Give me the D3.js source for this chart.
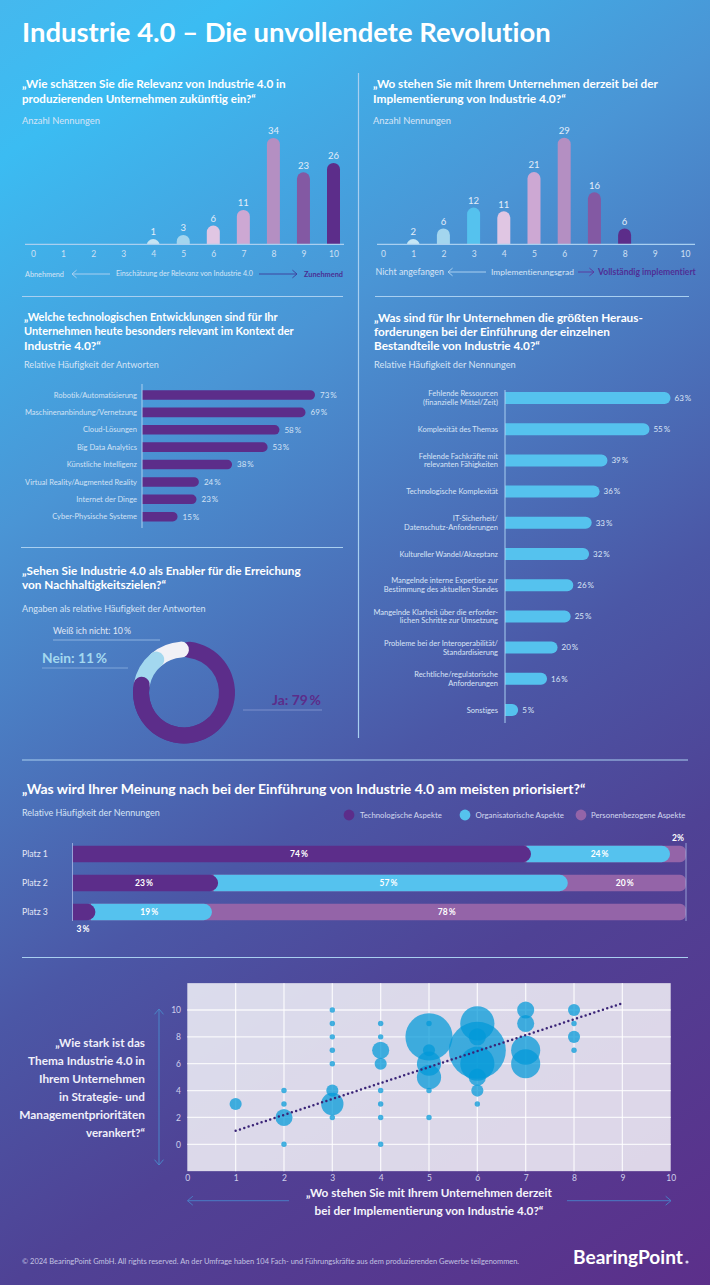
<!DOCTYPE html>
<html lang="de"><head><meta charset="utf-8">
<script src="https://cdnjs.cloudflare.com/ajax/libs/d3/7.8.5/d3.min.js"></script>
<style>html,body{margin:0;padding:0;background:#4b57a6}svg{display:block}text{font-family:"Lato","Noto Sans",sans-serif;font-variant-ligatures:none}</style>
</head><body><svg id="c" width="710" height="1285" viewBox="0 0 710 1285"></svg>
<script>
// ---------- data ----------
const relevanceCats=[0,1,2,3,4,5,6,7,8,9,10];
const relevanceVals=[0,0,0,0,1,3,6,11,34,23,26];
const relevanceCols=[null,null,null,null,"#c6e4f3","#a3d5ee","#e0c6e3","#cda8d3","#b48fc2","#8359a3","#5c2d8a"];
const implCats=[0,1,2,3,4,5,6,7,8,9,10];
const implVals=[0,2,6,12,11,21,29,16,6,0,0];
const implCols=[null,"#c6e6f5","#a3d5ee","#55c2ee","#e0c6e3","#cda8d3","#b48fc2","#8359a3","#5c2d8a",null,null];
const techLabels=["Robotik/Automatisierung","Maschinenanbindung/Vernetzung","Cloud-Lösungen","Big Data Analytics","Künstliche Intelligenz","Virtual Reality/Augmented Reality","Internet der Dinge","Cyber-Physische Systeme"];
const techVals=[73,69,58,53,38,24,23,15];
const hurdleLabels=[["Fehlende Ressourcen","(finanzielle Mittel/Zeit)"],["Komplexität des Themas"],["Fehlende Fachkräfte mit","relevanten Fähigkeiten"],["Technologische Komplexität"],["IT-Sicherheit/","Datenschutz-Anforderungen"],["Kultureller Wandel/Akzeptanz"],["Mangelnde interne Expertise zur","Bestimmung des aktuellen Standes"],["Mangelnde Klarheit über die erforder-","lichen Schritte zur Umsetzung"],["Probleme bei der Interoperabilität/","Standardisierung"],["Rechtliche/regulatorische","Anforderungen"],["Sonstiges"]];
const hurdleVals=[63,55,39,36,33,32,26,25,20,16,5];
const donutLabels=["Ja","Nein","Weiß ich nicht"];
const donutVals=[79,11,10];
const donutCols=["#5c2d8a","#a3d8ef","#f1f1f6"];
const stackRows=["Platz 1","Platz 2","Platz 3"];
const stackSeries=["Technologische Aspekte","Organisatorische Aspekte","Personenbezogene Aspekte"];
const stackCols=["#5c2d8a","#55c2ee","#9464a8"];
const stackTech=[74,23,3];
const stackOrg=[24,57,19];
const stackPers=[2,20,78];
const bubbleX=[1,2,2,2,2,3,3,3,3,3,3,3,3,4,4,4,4,4,4,4,4,5,5,5,5,5,5,5,6,6,6,6,6,6,6,7,7,7,7,8,8,8,8];
const bubbleY=[3,0,2,3,4,2,3,4,6,7,8,9,10,0,2,3,4,6,7,8,9,2,4,5,6,7,8,9,3,4,5,6,7,8,9,6,7,9,10,7,8,9,10];
const bubbleS=[5,1,10,1,1,1,17,5,1,1,1,1,1,1,1,1,1,5,10,1,1,1,1,20,20,5,76,1,1,5,10,40,111,10,40,29,29,10,10,1,5,1,5];
const trendX=[1,9];
const trendY=[1,10.5];
const scatterTicksX=[0,1,2,3,4,5,6,7,8,9,10];
const scatterTicksY=[0,2,4,6,8,10];

// ---------- helpers ----------
const svg=d3.select("#c");
const defs=svg.append("defs");
const grad=defs.append("linearGradient").attr("id","bg").attr("gradientUnits","userSpaceOnUse")
 .attr("x1",0).attr("y1",0).attr("x2",820).attr("y2",1215);
[[0,"#45b8ee"],[.09,"#3bbcf2"],[.30,"#4a95d5"],[.58,"#4b57a6"],[.73,"#4f4295"],[1,"#5c2f8a"]].forEach(s=>grad.append("stop").attr("offset",s[0]).attr("stop-color",s[1]));
svg.append("rect").attr("width",710).attr("height",1285).attr("fill","url(#bg)");

const LIGHT="#d6e4f6";
const PCT="\u2009%";
function T(str,x,y,o={}){
 const t=svg.append("text").text(str).attr("x",x).attr("y",y).attr("dy",".35em")
  .attr("font-size",o.s||8.5).attr("font-weight",o.b||400).attr("fill",o.c||LIGHT)
  .attr("text-anchor",o.a||"start");
 if(o.w){const m=t.node().getComputedTextLength();t.attr("font-size",(o.s||8.5)*o.w/m);}
 return t;
}
function rule(x1,y1,x2,y2,c,w){svg.append("line").attr("x1",x1).attr("y1",y1).attr("x2",x2).attr("y2",y2).attr("stroke",c||"#a9cff0").attr("stroke-width",w||1.2);}
function arrow(x1,y1,x2,y2,c,hs){
 rule(x1,y1,x2,y2,c,1);
 const a=Math.atan2(y2-y1,x2-x1),h=hs||6;
 const p=d3.path();
 p.moveTo(x2-h*Math.cos(a-.7),y2-h*Math.sin(a-.7));p.lineTo(x2,y2);p.lineTo(x2-h*Math.cos(a+.7),y2-h*Math.sin(a+.7));
 svg.append("path").attr("d",p.toString()).attr("fill","none").attr("stroke",c).attr("stroke-width",1);
}
function rightRound(x0,x1,y,h,r){
 r=r===undefined?h/2:r;
 return `M${x0} ${y}H${x1-r}A${r} ${r} 0 0 1 ${x1} ${y+r}V${y+h-r}A${r} ${r} 0 0 1 ${x1-r} ${y+h}H${x0}Z`;
}

// ---------- title & separators ----------
T("Industrie 4.0 – Die unvollendete Revolution",22,32,{s:25,b:700,c:"#fff",w:529});
rule(358.5,73,358.5,738);
rule(22,296.5,343,296.5);rule(375,296.5,689,296.5);
rule(21,547.5,343,547.5);rule(22,760,688,760);rule(22,957.5,688,957.5);

// ---------- column charts ----------
function columns(id,cats,vals,cols,x0,x1,axisA,axisB,hScale){
 const x=d3.scaleLinear().domain([0,10]).range([x0,x1]);
 const base=244.3,bw=13;
 defs.append("clipPath").attr("id",id).append("rect").attr("x",x0-20).attr("y",100).attr("width",x1-x0+40).attr("height",base-100);
 const data=cats.map((c,i)=>({c,v:vals[i],col:cols[i]})).filter(d=>d.v>0);
 svg.append("g").attr("clip-path",`url(#${id})`).selectAll("rect").data(data).join("rect")
  .attr("x",d=>x(d.c)-bw/2).attr("width",bw).attr("rx",bw/2)
  .attr("y",d=>base-hScale(d.v)).attr("height",d=>hScale(d.v)+20).attr("fill",d=>d.col);
 svg.append("g").selectAll("text").data(data).join("text").text(d=>d.v)
  .attr("x",d=>x(d.c)).attr("y",d=>base-hScale(d.v)-7).attr("dy",".35em").attr("text-anchor","middle")
  .attr("font-size",9.5).attr("fill","#e3edf9");
 rule(axisA,base,axisB,base,"#a9cff0",1.3);
 const ax=d3.axisBottom(x).tickValues(cats).tickSize(0).tickPadding(0).tickFormat(d3.format("d"));
 const g=svg.append("g").attr("transform",`translate(0,${base+7})`).call(ax);
 g.select(".domain").remove();
 g.selectAll("text").attr("font-size",8.5).attr("fill","#cfe0f4").attr("font-family","Lato");
}
T("„Wie schätzen Sie die Relevanz von Industrie 4.0 in",22,84,{s:12,b:700,c:"#fff",w:264});
T("produzierenden Unternehmen zukünftig ein?“",22,99,{s:12,b:700,c:"#fff",w:234});
T("Anzahl Nennungen",22,121,{s:9,w:78});
columns("cp1",relevanceCats,relevanceVals,relevanceCols,33,333.5,25,344,v=>Math.max(5.2,d3.scaleLinear().domain([0,34]).range([0,106.4])(v)));
T("Abnehmend",25,274,{s:7.5,w:39});
arrow(110,274,72,274,"#a9cff0",6);
T("Einschätzung der Relevanz von Industrie 4.0",116,274,{s:7.5,w:137});
arrow(259,274,297,274,"#3f459f",6);
T("Zunehmend",304,274,{s:7.5,b:700,c:"#4a2f93",w:39});

T("„Wo stehen Sie mit Ihrem Unternehmen derzeit bei der",373,84,{s:12,b:700,c:"#fff",w:285});
T("Implementierung von Industrie 4.0?“",373,99,{s:12,b:700,c:"#fff",w:193});
T("Anzahl Nennungen",373,121,{s:9,w:78});
const implScale=d3.scalePow().exponent(1.208).domain([0,29]).range([0,106.6]);
columns("cp2",implCats,implVals,implCols,383,685,377,695,v=>Math.max(5.2,implScale(v)));
T("Nicht angefangen",375.5,272,{s:8,w:68.5});
arrow(486,272,448,272,"#a9cff0",6);
T("Implementierungsgrad",491,272,{s:8,w:83});
arrow(578,272,594,272,"#5a3aa0",6);
T("Vollständig implementiert",598,272,{s:8,b:700,c:"#4f2f95",w:98});

// ---------- tech bars ----------
T("„Welche technologischen Entwicklungen sind für Ihr",24,317,{s:12,b:700,c:"#fff",w:254});
T("Unternehmen heute besonders relevant im Kontext der",24,331.5,{s:12,b:700,c:"#fff",w:270});
T("Industrie 4.0?“",24,346,{s:12,b:700,c:"#fff",w:77});
T("Relative Häufigkeit der Antworten",24,365,{s:9,w:135});
{
 const x=d3.scaleLinear().domain([0,73]).range([142,315]);
 const y=d3.scalePoint().domain(techLabels).range([395,516.7]);
 const h=9.6;
 svg.append("g").selectAll("path").data(techVals).join("path")
  .attr("d",(d,i)=>rightRound(x(0),x(d),y(techLabels[i])-h/2,h)).attr("fill","#5c2d8a");
 techLabels.forEach((l,i)=>{
  T(l,137,y(l),{s:7.55,a:"end",c:"#d3e2f5"});
  T(techVals[i]+PCT,x(techVals[i])+5,y(l),{s:8,c:"#d3e2f5"});
 });
 rule(142,384,142,528,"#a9cff0",1);
}

// ---------- hurdles bars ----------
T("„Was sind für Ihr Unternehmen die größten Heraus-",374,318,{s:12,b:700,c:"#fff",w:269});
T("forderungen bei der Einführung der einzelnen",374,332,{s:12,b:700,c:"#fff",w:236});
T("Bestandteile von Industrie 4.0?“",374,346,{s:12,b:700,c:"#fff",w:166});
T("Relative Häufigkeit der Nennungen",374,364.5,{s:9,w:142});
{
 const x=d3.scaleLinear().domain([0,63]).range([505,670.5]);
 const y=d3.scalePoint().domain(d3.range(hurdleVals.length)).range([398,710]);
 const h=12;
 svg.append("g").selectAll("path").data(hurdleVals).join("path")
  .attr("d",(d,i)=>rightRound(x(0),x(d),y(i)-h/2,h)).attr("fill","#55c2ee");
 hurdleLabels.forEach((ls,i)=>{
  ls.forEach((l,j)=>T(l,498,y(i)+(j-(ls.length-1)/2)*8.8,{s:7.5,a:"end",c:"#d9e4f6"}));
  T(hurdleVals[i]+PCT,x(hurdleVals[i])+4,y(i),{s:8,c:"#d9e4f6"});
 });
 rule(505,390,505,723,"#a9cff0",1);
}

// ---------- donut ----------
T("„Sehen Sie Industrie 4.0 als Enabler für die Erreichung",22,571,{s:12,b:700,c:"#fff",w:279});
T("von Nachhaltigkeitszielen?“",22,585,{s:12,b:700,c:"#fff",w:144});
T("Angaben als relative Häufigkeit der Antworten",22,609,{s:9,w:184});
{
 const cx=184,cy=692.5,rO=51,rI=35,cap=8/43,rot=-4*Math.PI/180;
 const k=2*Math.PI/d3.sum(donutVals);
 const arc=d3.arc().innerRadius(rI).outerRadius(rO).cornerRadius((rO-rI)/2);
 const g=svg.append("g").attr("transform",`translate(${cx},${cy})`);
 let s=rot;const seg=donutVals.map(v=>{const r={a:s,b:s+v*k};s+=v*k;return r;});
 const draw=(i,a,b)=>g.append("path").attr("d",arc({startAngle:a-cap,endAngle:b+cap})).attr("fill",donutCols[i]);
 draw(0,seg[0].a+cap,seg[0].b);
 draw(2,seg[2].a,seg[2].b);
 draw(1,seg[1].a,seg[1].b);
 draw(0,(seg[0].a+seg[0].b)/2,seg[0].b);
 T(donutLabels[2]+": "+donutVals[2]+PCT,53,631,{s:9,c:"#e0e8f6",w:78});
 rule(53,640,160,640,"#8cb2e0",1);
 T(donutLabels[1]+": "+donutVals[1]+PCT,42,658,{s:15,b:700,c:"#a3d8ef",w:65});
 rule(42,668,128,668,"#7fa6da",1);
 T(donutLabels[0]+": "+donutVals[0]+PCT,272,700,{s:15,b:700,c:"#5c2d8a",w:49});
 rule(243,710,322,710,"#7c90cc",1);
}

// ---------- stacked ----------
T("„Was wird Ihrer Meinung nach bei der Einführung von Industrie 4.0 am meisten priorisiert?“",22,789,{s:14,b:700,c:"#fff",w:564});
T("Relative Häufigkeit der Nennungen",22,813,{s:8.5,w:138});
[[349,360,82],[465,475.5,88.5],[581,591,94.5]].forEach((p,i)=>{
 svg.append("circle").attr("cx",p[0]).attr("cy",815).attr("r",5.4).attr("fill",stackCols[i]);
 T(stackSeries[i],p[1],815.5,{s:8,w:p[2],c:"#d3d8ef"});
});
{
 const x=d3.scaleLinear().domain([0,100]).range([72.5,686]);
 const y=d3.scalePoint().domain(stackRows).range([854,912]);
 const h=16.6,capX=5,minLast=16;
 const rows=stackRows.map((r,i)=>({r,v:[stackTech[i],stackOrg[i],stackPers[i]]}));
 rows.forEach(row=>{
  const c1=row.v[0],c2=c1+row.v[1];
  const yy=y(row.r)-h/2;
  svg.append("path").attr("d",rightRound(x(c1)-2,x(100),yy,h,6)).attr("fill",stackCols[2]);
  const e2=Math.min(x(c2)+capX-.5,x(100)-minLast);
  svg.append("path").attr("d",rightRound(x(c1),e2,yy,h)).attr("fill",stackCols[1]);
  svg.append("path").attr("d",rightRound(x(0),x(c1)+capX-.5,yy,h)).attr("fill",stackCols[0]);
  T(row.r,22,y(row.r),{s:8.5,c:"#e3e6f5",w:row.r.length*3.7});
  const lab=(v,cx)=>T(v+PCT,cx,y(row.r),{s:8.5,b:700,c:"#fff",a:"middle"});
  if(row.v[0]>=10)lab(row.v[0],row.r=="Platz 1"?299:x(c1/2)+1);
  if(row.v[1]>=10)lab(row.v[1],x(c1+row.v[1]/2)+(row.r=="Platz 1"?-.5:0));
  if(row.v[2]>=10)lab(row.v[2],x(c2+row.v[2]/2));
 });
 T(stackPers[0]+"%",678,838,{s:8.5,b:700,c:"#fff",a:"middle"});
 T(stackTech[2]+PCT,83,929,{s:8.5,b:700,c:"#fff",a:"middle"});
 rule(72.5,843,72.5,921,"#a9b8e6",.8);
 rule(686,843,686,921,"#a9b8e6",.8);
}

// ---------- scatter ----------
{
 const x=d3.scaleLinear().domain([0,10]).range([187.3,670.7]);
 const y=d3.scaleLinear().domain([0,10]).range([1144.3,1010]);
 const top=y(12),bot=y(-2);
 const r=d3.scaleSqrt().domain([0,111]).range([0,28.5]);
 svg.append("rect").attr("x",x(0)).attr("y",top).attr("width",x(10)-x(0)).attr("height",bot-top).attr("fill","#fff").attr("opacity",.8);
 svg.append("g").selectAll("line").data(scatterTicksY).join("line").attr("x1",x(0)).attr("x2",x(10)).attr("y1",d=>y(d)).attr("y2",d=>y(d)).attr("stroke","#fff").attr("stroke-opacity",.8).attr("stroke-width",1.3);
 svg.append("g").selectAll("line").data(scatterTicksX.slice(1,-1)).join("line").attr("x1",d=>x(d)).attr("x2",d=>x(d)).attr("y1",top).attr("y2",bot).attr("stroke","#fff").attr("stroke-opacity",.8).attr("stroke-width",1.3);
 svg.append("g").selectAll("circle").data(bubbleX.map((d,i)=>i)).join("circle")
  .attr("cx",i=>x(bubbleX[i])).attr("cy",i=>y(bubbleY[i])).attr("r",i=>r(bubbleS[i]))
  .attr("fill","#0098d8").attr("fill-opacity",.72);
 svg.append("line").attr("x1",x(trendX[0])).attr("y1",y(trendY[0])).attr("x2",x(trendX[1])).attr("y2",y(trendY[1]))
  .attr("stroke","#3a2477").attr("stroke-width",2.5).attr("stroke-linecap","round").attr("stroke-dasharray","0 4.55");
 const gx=svg.append("g").attr("transform",`translate(0,${bot+4})`).call(d3.axisBottom(x).tickValues(scatterTicksX).tickSize(0).tickPadding(0).tickFormat(d3.format("d")));
 gx.select(".domain").remove();gx.selectAll("text").attr("font-size",8.5).attr("fill","#d0d0ec").attr("font-family","Lato");
 const gy=svg.append("g").attr("transform",`translate(181,0)`).call(d3.axisLeft(y).tickValues(scatterTicksY).tickSize(0).tickPadding(0).tickFormat(d3.format("d")));
 gy.select(".domain").remove();gy.selectAll("text").attr("font-size",8.5).attr("fill","#d0d0ec").attr("font-family","Lato");
}
arrow(159,1087,159,1009,"#4a86c8",7);
arrow(159,1087,159,1165,"#4a86c8",7);
arrow(289,1200.7,187.5,1200.7,"#4a7cc4",7);
arrow(567,1200.7,671,1200.7,"#4a7cc4",7);
["„Wie stark ist das","Thema Industrie 4.0 in","Ihrem Unternehmen","in Strategie- und","Managementprioritäten","verankert?“"].forEach((l,i)=>{
 T(l,145,1043+i*18,{s:12.5,b:700,c:"#f0eff9",a:"end",w:[90,117,106,86,126,59][i]});
});
T("„Wo stehen Sie mit Ihrem Unternehmen derzeit",429,1193,{s:12,b:700,c:"#f5f4fb",a:"middle",w:246});
T("bei der Implementierung von Industrie 4.0?“",429,1211,{s:12,b:700,c:"#f5f4fb",a:"middle",w:229});
T("© 2024 BearingPoint GmbH. All rights reserved. An der Umfrage haben 104 Fach- und Führungskräfte aus dem produzierenden Gewerbe teilgenommen.",22,1261,{s:8,c:"#c3c2e2",w:498});
T("BearingPoint",573,1257,{s:20,b:700,c:"#fff",w:110});
svg.append("circle").attr("cx",687).attr("cy",1262).attr("r",1.6).attr("fill","#d8d4ea");
</script></body></html>
